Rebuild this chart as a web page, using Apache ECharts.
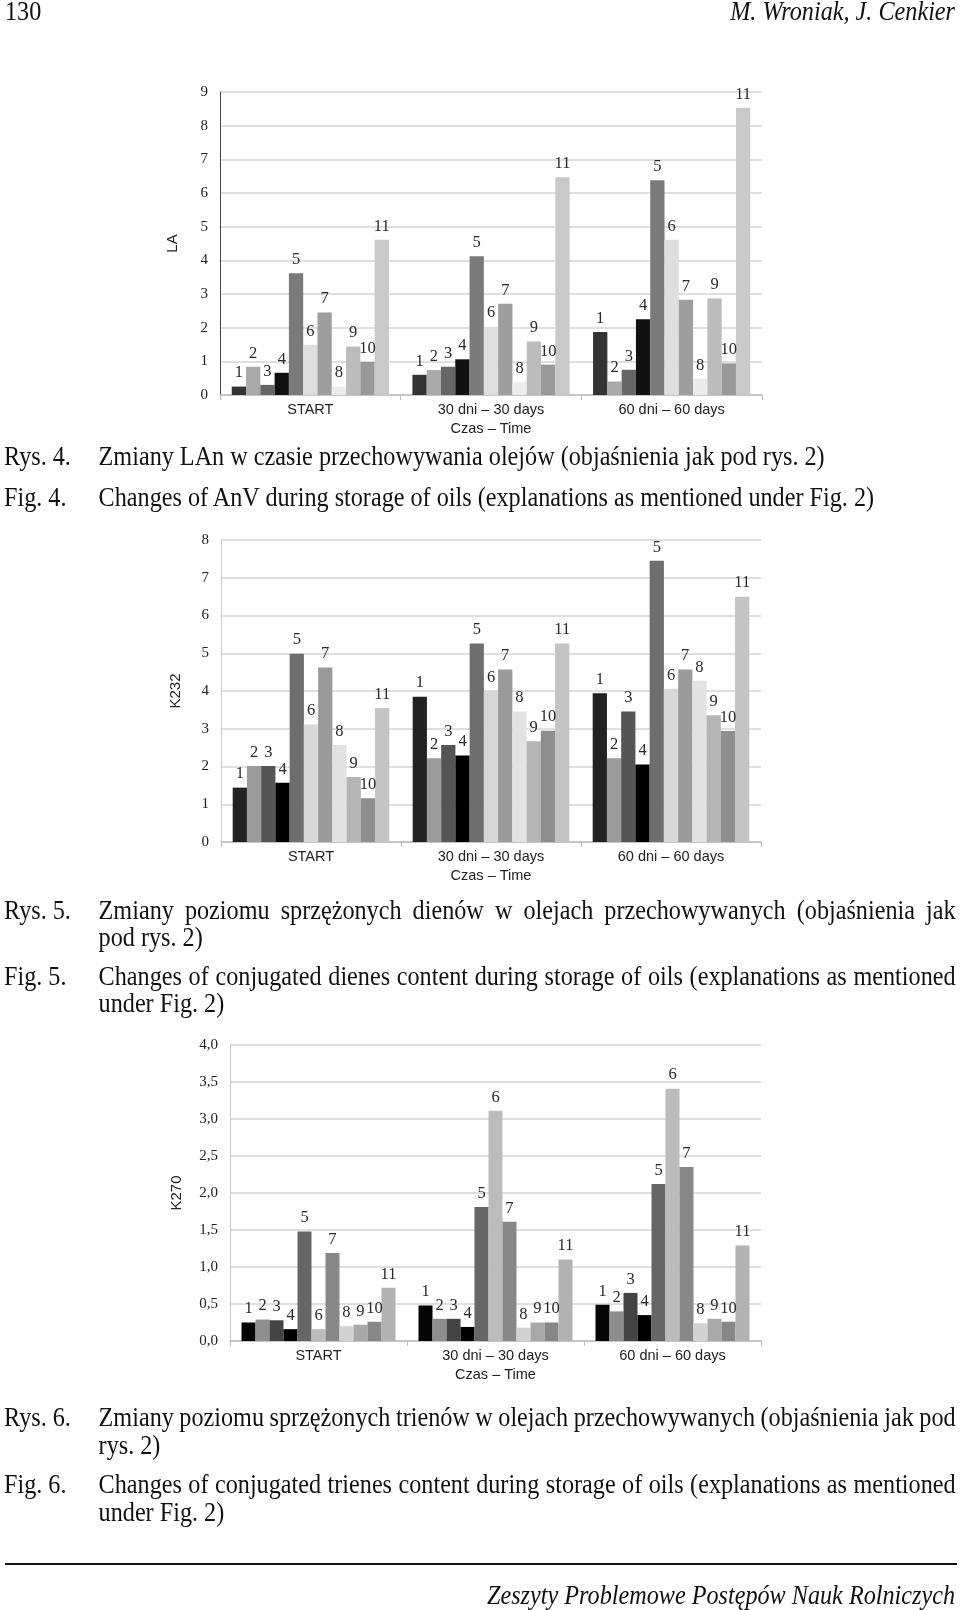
<!DOCTYPE html>
<html>
<head>
<meta charset="utf-8">
<script src="https://cdn.jsdelivr.net/npm/echarts@6/dist/echarts.min.js"></script>
<style>
  html, body { margin: 0; padding: 0; background: #fff; }
  #page { position: relative; width: 960px; height: 1610px; overflow: hidden; }
  #chart { position: absolute; left: 0; top: 0; width: 960px; height: 1610px; }
  .t { position: absolute; font-family: "Liberation Serif", "Times New Roman", serif; font-size: 24.2px;
       line-height: 27px; height: 27px; color: #111; white-space: nowrap; transform: scaleY(1.12); transform-origin: 50% 50%; }
  .j { text-align: justify; text-align-last: justify; width: 857px; word-spacing: -3px; }
  .it { font-style: italic; }
  .rule { position: absolute; left: 5px; width: 952px; top: 1563px; height: 1.6px; background: #111; }
</style>
</head>
<body>
<div id="page">
  <div id="chart"></div>
  <div class="t" style="left:5px; top:-3px;">130</div>
  <div class="t it" style="right:5px; top:-3px;">M. Wroniak, J. Cenkier</div>

  <div class="t" style="left:4px; top:441.5px;">Rys. 4.</div>
  <div class="t" style="left:98.6px; top:441.5px;">Zmiany LAn w czasie przechowywania olejów (objaśnienia jak pod rys. 2)</div>
  <div class="t" style="left:4px; top:482.5px;">Fig. 4.</div>
  <div class="t" style="left:98.6px; top:482.5px;">Changes of AnV during storage of oils (explanations as mentioned under Fig. 2)</div>

  <div class="t" style="left:4px; top:895.5px;">Rys. 5.</div>
  <div class="t j" style="left:98.6px; top:895.5px;">Zmiany poziomu sprzężonych dienów w olejach przechowywanych (objaśnienia jak</div>
  <div class="t" style="left:98.6px; top:922.5px;">pod rys. 2)</div>
  <div class="t" style="left:4px; top:961.5px;">Fig. 5.</div>
  <div class="t j" style="left:98.6px; top:961.5px;">Changes of conjugated dienes content during storage of oils (explanations as mentioned</div>
  <div class="t" style="left:98.6px; top:988.5px;">under Fig. 2)</div>

  <div class="t" style="left:4px; top:1402.5px;">Rys. 6.</div>
  <div class="t j" style="left:98.6px; top:1402.5px;">Zmiany poziomu sprzężonych trienów w olejach przechowywanych (objaśnienia jak pod</div>
  <div class="t" style="left:98.6px; top:1430.5px;">rys. 2)</div>
  <div class="t" style="left:4px; top:1469.5px;">Fig. 6.</div>
  <div class="t j" style="left:98.6px; top:1469.5px;">Changes of conjugated trienes content during storage of oils (explanations as mentioned</div>
  <div class="t" style="left:98.6px; top:1497.5px;">under Fig. 2)</div>

  <div class="rule"></div>
  <div class="t it" style="right:5px; top:1580.5px;">Zeszyty Problemowe Postępów Nauk Rolniczych</div>
</div>
<script>
// Categories and series names
var categories = ['START', '30 dni – 30 days', '60 dni – 60 days'];
var seriesNames = ['1','2','3','4','5','6','7','8','9','10','11'];

// Fig. 4 – LA (values for oils 1..11)
var laStart = [0.25, 0.84, 0.30, 0.66, 3.62, 1.49, 2.45, 0.25, 1.44, 0.98, 4.61];
var la30    = [0.60, 0.74, 0.84, 1.06, 4.12, 2.03, 2.71, 0.38, 1.59, 0.90, 6.47];
var la60    = [1.87, 0.40, 0.75, 2.25, 6.38, 4.61, 2.83, 0.48, 2.87, 0.94, 8.53];

// Fig. 5 – K232
var k232Start = [1.44, 2.01, 2.01, 1.57, 4.99, 3.11, 4.62, 2.57, 1.72, 1.16, 3.55];
var k232_30   = [3.85, 2.22, 2.57, 2.29, 5.26, 4.00, 4.57, 3.46, 2.67, 2.95, 5.26];
var k232_60   = [3.94, 2.22, 3.46, 2.05, 7.45, 4.06, 4.57, 4.27, 3.36, 2.94, 6.50];

// Fig. 6 – K270
var k270Start = [0.25, 0.29, 0.28, 0.16, 1.48, 0.16, 1.19, 0.20, 0.22, 0.26, 0.72];
var k270_30   = [0.48, 0.30, 0.30, 0.19, 1.81, 3.11, 1.61, 0.18, 0.25, 0.25, 1.10];
var k270_60   = [0.49, 0.40, 0.65, 0.35, 2.12, 3.41, 2.35, 0.24, 0.30, 0.26, 1.29];

// Y tick settings
var yTicks1 = {min: 0, max: 9, interval: 1};
var yTicks2 = {min: 0, max: 8, interval: 1};
var yTicks3 = {min: 0, max: 4, interval: 0.5};

// Bar colours per chart
var colors1 = ['#333333','#aaaaaa','#666666','#111111','#7a7a7a','#dedede','#9e9e9e','#ececec','#bcbcbc','#999999','#c9c9c9'];
var colors2 = ['#222222','#9c9c9c','#555555','#000000','#6e6e6e','#d8d8d8','#9a9a9a','#e2e2e2','#b5b5b5','#8e8e8e','#c4c4c4'];
var colors3 = ['#050505','#8e8e8e','#444444','#000000','#666666','#bcbcbc','#888888','#d2d2d2','#a8a8a8','#878787','#b2b2b2'];

var charts = [
  {start: laStart, d30: la30, d60: la60, colors: colors1, ticks: yTicks1, name: 'LA', dec: 0,
   grid: {left: 220, top: 92, width: 542, height: 303}, yLine: '#444', nameGap: 40},
  {start: k232Start, d30: k232_30, d60: k232_60, colors: colors2, ticks: yTicks2, name: 'K232', dec: 0,
   grid: {left: 221, top: 540, width: 540, height: 302}, yLine: '#c8c8c8', nameGap: 38},
  {start: k270Start, d30: k270_30, d60: k270_60, colors: colors3, ticks: yTicks3, name: 'K270', dec: 1,
   grid: {left: 230, top: 1045, width: 531, height: 296}, yLine: '#c8c8c8', nameGap: 46}
];

var grids = [], xAxes = [], yAxes = [], series = [];
charts.forEach(function (c, ci) {
  grids.push(c.grid);
  xAxes.push({
    type: 'category', gridIndex: ci, data: categories,
    name: 'Czas – Time', nameLocation: 'middle', nameGap: 26,
    nameTextStyle: {fontFamily: 'Liberation Sans', fontSize: 14.5, color: '#222'},
    axisLine: {lineStyle: {color: '#bdbdbd', width: 1.5}},
    axisTick: {show: true, length: 5, lineStyle: {color: '#bdbdbd'}},
    axisLabel: {fontFamily: 'Liberation Sans', fontSize: 14.5, color: '#222', margin: 7}
  });
  yAxes.push({
    type: 'value', gridIndex: ci, min: c.ticks.min, max: c.ticks.max, interval: c.ticks.interval,
    name: c.name, nameLocation: 'middle', nameRotate: 90, nameGap: c.nameGap,
    nameTextStyle: {fontFamily: 'Liberation Sans', fontSize: 15, color: '#222'},
    axisLine: {show: true, lineStyle: {color: c.yLine, width: 1}},
    axisTick: {show: false},
    splitLine: {lineStyle: {color: '#d4d4d4', width: 1.6}},
    axisLabel: {fontFamily: 'Liberation Serif', fontSize: 15, color: '#222', margin: 12,
      formatter: function (v) { return c.dec ? v.toFixed(1).replace('.', ',') : String(v); }}
  });
  seriesNames.forEach(function (nm, i) {
    series.push({
      type: 'bar', name: nm, xAxisIndex: ci, yAxisIndex: ci,
      data: [c.start[i], c.d30[i], c.d60[i]],
      barGap: '0%', barCategoryGap: '13%',
      itemStyle: {color: c.colors[i]},
      label: {show: true, position: 'top', distance: 5, formatter: '{a}',
        fontFamily: 'Liberation Serif', fontSize: 16.5, color: '#2a2a2a'}
    });
  });
});

var chart = echarts.init(document.getElementById('chart'), null, {renderer: 'canvas'});
chart.setOption({
  animation: false,
  backgroundColor: 'transparent',
  grid: grids, xAxis: xAxes, yAxis: yAxes, series: series
});
</script>
</body>
</html>
